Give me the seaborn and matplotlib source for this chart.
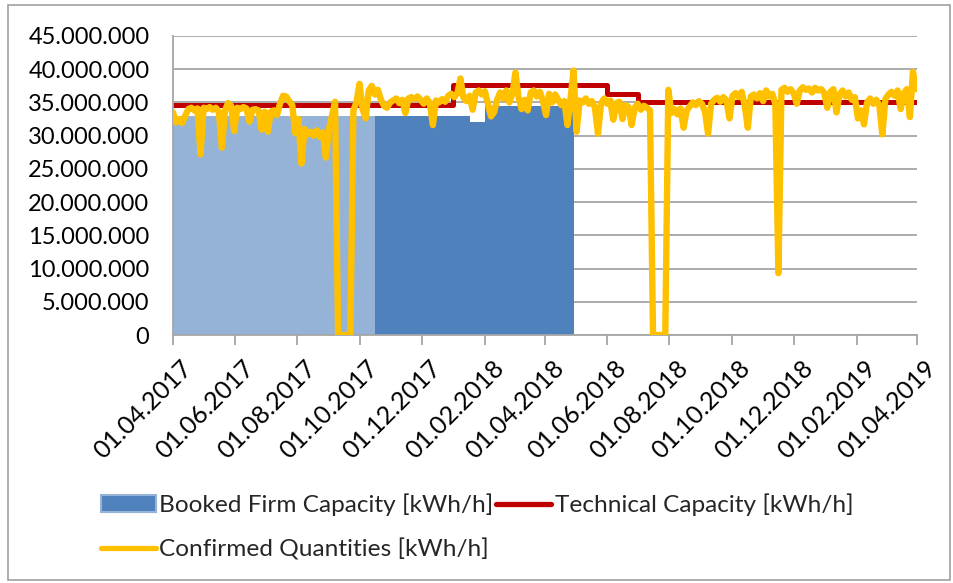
import numpy as np
import pandas as pd
import matplotlib
matplotlib.use("Agg")
import matplotlib.pyplot as plt
import matplotlib.dates as mdates
import matplotlib.transforms as mtransforms
from matplotlib.patches import Rectangle, Patch
from matplotlib.lines import Line2D
import seaborn as sns

# Confirmed quantities, read every 3 days starting 01.04.2017 [million kWh/h]
confirmed_start = "2017-04-01"
confirmed_mio = [
    33.5, 32.0, 32.5, 31.9, 33.0, 34.0, 34.2, 33.8, 34.1, 27.2,
    34.2, 34.0, 34.3, 33.9, 34.2, 33.6, 28.2, 33.8, 34.9, 34.5,
    30.7, 34.2, 34.0, 34.3, 34.1, 32.1, 33.9, 34.0, 33.8, 30.9,
    33.6, 30.6, 33.6, 33.8, 33.1, 34.8, 36.0, 35.9, 35.2, 34.6,
    30.4, 32.5, 25.8, 31.0, 30.2, 30.6, 30.0, 30.8, 29.8, 30.5,
    26.7, 31.0, 33.0, 35.1, 0.0, 0.0, 0.0, 0.0, 0.0, 33.8,
    35.0, 37.8, 34.0, 32.6, 36.8, 37.5, 36.2, 36.9, 35.4, 34.5,
    34.2, 35.0, 35.3, 35.6, 34.9, 35.4, 33.4, 35.6, 35.8, 35.5,
    35.9, 35.4, 34.8, 35.6, 34.9, 31.6, 35.3, 35.0, 35.5, 35.1,
    36.0, 36.3, 35.8, 36.4, 38.6, 35.7, 35.2, 36.0, 33.9, 36.5,
    36.8, 36.2, 36.7, 34.8, 32.9, 33.5, 35.4, 36.5, 35.6, 36.8,
    35.0, 36.3, 39.5, 35.8, 34.0, 35.4, 33.8, 36.5, 36.8, 35.9,
    36.6, 35.2, 33.1, 36.3, 35.0, 36.2, 35.4, 34.6, 35.2, 31.6,
    35.5, 39.8, 30.6, 35.3, 35.0, 35.6, 34.8, 35.2, 34.2, 30.3,
    34.9, 35.6, 34.8, 35.3, 32.4, 34.9, 35.1, 32.5, 34.6, 34.3,
    31.6, 34.2, 34.8, 33.9, 34.5, 34.2, 33.8, 0.0, 0.0, 0.0,
    0.0, 0.0, 36.9, 33.4, 34.0, 33.2, 34.1, 31.2, 33.8, 34.4,
    35.0, 34.6, 35.2, 34.8, 33.6, 30.3, 34.8, 35.4, 35.7, 35.1,
    35.8, 35.3, 32.6, 36.0, 36.4, 35.8, 36.6, 34.5, 31.2, 35.9,
    36.2, 35.6, 36.4, 35.2, 36.8, 35.9, 36.3, 34.8, 9.3, 36.9,
    37.2, 36.6, 37.0, 36.4, 34.8, 36.8, 37.3, 36.9, 37.1, 36.5,
    37.2, 36.8, 37.0, 36.4, 34.2, 36.6, 37.0, 33.5, 36.2, 36.8,
    35.9, 36.5, 35.4, 35.8, 32.6, 33.8, 31.7, 35.0, 35.6, 34.8,
    35.4, 34.6, 30.2, 35.5, 36.2, 36.6, 36.0, 36.8, 34.0, 36.4,
    37.0, 32.8, 39.6, 37.0,
]

# Technical capacity steps [million kWh/h]
tech_dates = ["2017-04-01", "2018-01-01", "2018-06-01", "2018-07-01", "2019-04-01"]
tech_mio = [34.6, 37.7, 36.3, 35.1, 35.1]

# Booked firm capacity steps [million kWh/h]
booked_light_dates = ["2017-04-01", "2017-10-16"]
booked_light_mio = [33.0, 33.0]
booked_dark_dates = ["2017-10-16", "2018-01-01", "2018-01-17", "2018-02-01", "2018-04-29"]
booked_dark_mio = [32.9, 33.0, 32.1, 34.4, 34.4]

xtick_dates = ["2017-04-01", "2017-06-01", "2017-08-01", "2017-10-01", "2017-12-01",
               "2018-02-01", "2018-04-01", "2018-06-01", "2018-08-01", "2018-10-01",
               "2018-12-01", "2019-02-01", "2019-04-01"]

C_LIGHT = "#95B3D7"
C_DARK = "#4F81BD"
C_RED = "#C00000"
C_YELLOW = "#FFC000"
C_GRID = "#A6A6A6"

sns.set_style("white")
plt.rcParams["font.family"] = ["Lato", "DejaVu Sans"]

conf = pd.DataFrame({
    "date": pd.date_range(confirmed_start, periods=len(confirmed_mio), freq="3D"),
    "value": np.array(confirmed_mio) * 1e6,
})
tech = pd.DataFrame({"date": pd.to_datetime(tech_dates), "value": np.array(tech_mio) * 1e6})

fig = plt.figure(figsize=(9.54, 5.83), dpi=100)
ax = fig.add_axes([173 / 954, 1 - 335 / 583, (917 - 173) / 954, (335 - 36) / 583])

ax.set_axisbelow(True)
ax.yaxis.grid(True, color=C_GRID, linewidth=1.3)

ax.fill_between(pd.to_datetime(booked_light_dates), np.array(booked_light_mio) * 1e6,
                step="post", color=C_LIGHT, linewidth=0, zorder=1)
ax.fill_between(pd.to_datetime(booked_dark_dates), np.array(booked_dark_mio) * 1e6,
                step="post", color=C_DARK, linewidth=0, zorder=1)

sns.lineplot(data=tech, x="date", y="value", ax=ax, color=C_RED, linewidth=3.6,
             drawstyle="steps-post", zorder=2, legend=False)
sns.lineplot(data=conf, x="date", y="value", ax=ax, color=C_YELLOW, linewidth=4.6,
             zorder=3, legend=False)

ax.set_xlim(pd.Timestamp("2017-04-01"), pd.Timestamp("2019-04-01"))
ax.set_ylim(0, 45e6)
ax.set_yticks(np.arange(0, 45e6 + 1, 5e6))
ax.yaxis.set_major_formatter(plt.FuncFormatter(lambda v, p: f"{int(v):,}".replace(",", ".")))
ax.set_xticks(pd.to_datetime(xtick_dates))
ax.xaxis.set_major_formatter(mdates.DateFormatter("%d.%m.%Y"))
ax.set_xlabel("")
ax.set_ylabel("")

for s in ["top", "right"]:
    ax.spines[s].set_visible(False)
for s in ["left", "bottom"]:
    ax.spines[s].set_color(C_GRID)
    ax.spines[s].set_linewidth(1.3)

ax.tick_params(axis="both", which="major", length=7, width=1.3, color=C_GRID,
               labelcolor="black", direction="out")
ax.tick_params(axis="y", pad=10, labelsize=17)
ax.tick_params(axis="x", bottom=True, pad=8, labelsize=18)
shift = mtransforms.ScaledTranslation(7 / 100, 0, fig.dpi_scale_trans)
for lab in ax.get_xticklabels():
    lab.set_rotation(45)
    lab.set_ha("right")
    lab.set_rotation_mode("anchor")
    lab.set_transform(lab.get_transform() + shift)

handles = [
    Patch(facecolor=C_DARK, edgecolor=C_LIGHT, linewidth=1.5),
    Line2D([0], [0], color=C_YELLOW, linewidth=3.8),
    Line2D([0], [0], color=C_RED, linewidth=3.8),
]
labels = ["Booked Firm Capacity [kWh/h]", "Confirmed Quantities [kWh/h]",
          "Technical Capacity [kWh/h]"]
fig.legend(handles, labels, loc="upper left", bbox_to_anchor=(91 / 954, 1 - 484 / 583),
           ncol=2, frameon=False, fontsize=17.6, handlelength=2.25, handletextpad=0.15,
           columnspacing=0.1, labelspacing=0.9, borderaxespad=0)

fig.patches.append(Rectangle((8 / 954, 3 / 583), 942 / 954, 575 / 583, transform=fig.transFigure,
                             fill=False, edgecolor="#A0A0A0", linewidth=1.2))

fig.savefig("out.png", dpi=100)
